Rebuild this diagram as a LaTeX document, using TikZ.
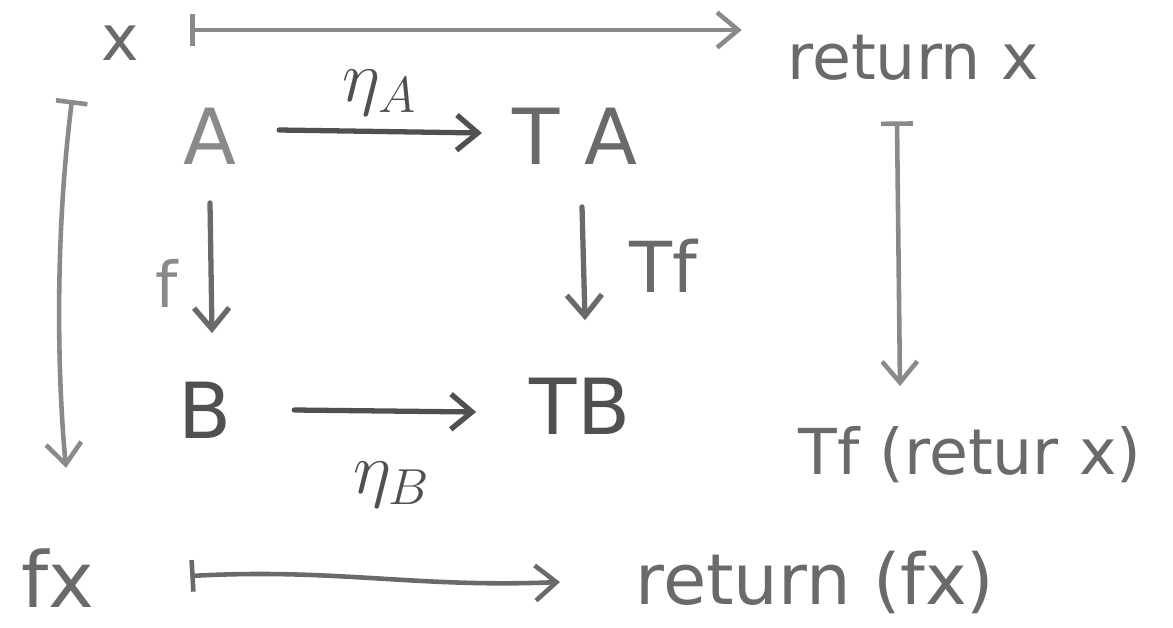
\documentclass[tikz,border=0pt]{standalone}
\usepackage{fontspec}
\setmainfont{DejaVu Sans}
\usetikzlibrary{arrows.meta,calc}
\definecolor{inkA}{HTML}{8A8A8A}
\definecolor{inkB}{HTML}{6A6A6A}
\definecolor{inkC}{HTML}{505050}
\tikzset{
  lbl/.style={inner sep=0pt,text=inkB,font=\fontsize{18}{22}\selectfont},
  obj/.style={inner sep=0pt,font=\fontsize{22}{26}\selectfont},
  arr/.style={line width=1.5pt,line cap=round,draw=inkB,-{Straight Barb[length=6pt,width=10pt,line width=1.5pt]}},
  mapsto/.style={line width=1.3pt,line cap=round,draw=inkA,{Bar[width=9pt,line width=1.3pt]}-{Straight Barb[length=6pt,width=10pt,line width=1.3pt]}}
}
\begin{document}
\begin{tikzpicture}[x=0.01cm,y=-0.01cm]
\useasboundingbox[fill=white] (0,0) rectangle (1173,627);
% nodes
\node[lbl] (x) at (120,43) {x};
\node[lbl] (rx) at (913,58) {return x};
\node[obj,text=inkA] (A) at (210,136) {A};
\node[obj,text=inkB] (TA) at (575,136) {T A};
\node[obj,text=inkC] (B) at (205,410) {B};
\node[obj,text=inkC] (TB) at (580,406) {TB};
\node[lbl] (trx) at (970,455) {Tf (retur x)};
\node[lbl,font=\fontsize{22}{26}\selectfont] (fx) at (58,578) {fx};
\node[lbl,font=\fontsize{20}{24}\selectfont] (rfx) at (815,582) {return (fx)};
% labels
\node[lbl,text=inkC,font=\fontsize{22}{26}\selectfont] (etaA) at (380,93) {$\eta_{A}$};
\node[lbl,text=inkC,font=\fontsize{22}{26}\selectfont] (etaB) at (392,485) {$\eta_{B}$};
\node[lbl,text=inkA] (f) at (167,283) {f};
\node[lbl,font=\fontsize{20}{24}\selectfont] (Tf) at (663,266) {Tf};
% connectors
\draw[mapsto] ($(x.center)+(70,-13)$) -- ($(rx.west)+(-45,-28)$);
\draw[mapsto] ($(x.center)+(-48,57)$) .. controls ($(x.center)+(-66,200)$) and ($(x.center)+(-62,340)$) .. ($(fx.north)+(8,-80)$);
\draw[mapsto] ($(rx.south)+(-16,40)$) -- ($(trx.north)+(-70,-40)$);
\draw[mapsto,draw=inkB] ($(fx.east)+(95,-2)$) .. controls ($(fx.east)+(240,-10)$) and ($(fx.east)+(320,10)$) .. ($(rfx.west)+(-75,0)$);
\draw[arr,draw=inkC] ($(A.east)+(42,-6)$) -- ($(TA.west)+(-30,-3)$);
\draw[arr] ($(A.south)+(0,38)$) -- ($(B.north)+(7,-48)$);
\draw[arr] ($(TA.south)+(7,42)$) -- ($(TB.north)+(5,-57)$);
\draw[arr,draw=inkC] ($(B.east)+(62,0)$) -- ($(TB.west)+(-53,6)$);
\end{tikzpicture}
\end{document}
